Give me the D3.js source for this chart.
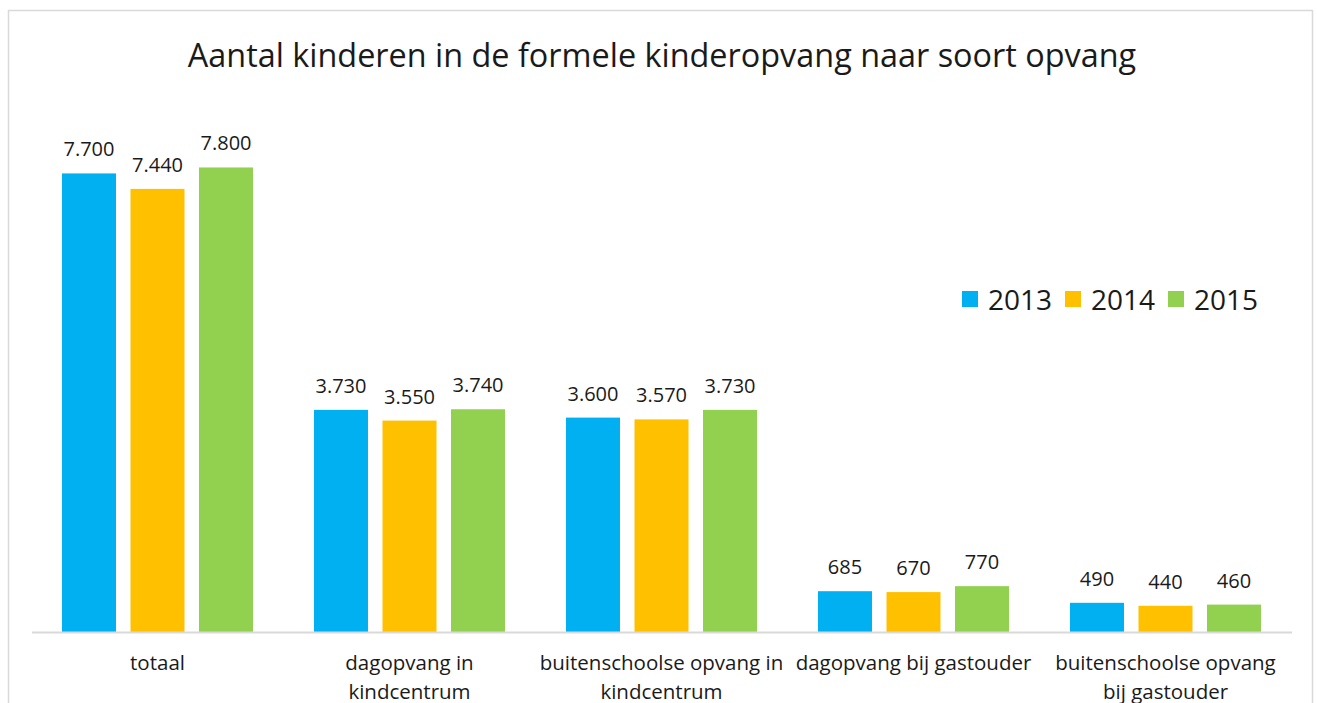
<!DOCTYPE html>
<html>
<head>
<meta charset="utf-8">
<script src="https://cdn.jsdelivr.net/npm/d3@7"></script>
<style>
  body { margin: 0; background: #fff; }
  text { font-family: "Open Sans", sans-serif; fill: #1a1a1a; }
</style>
</head>
<body>
<div id="chart"></div>
<script>
// Data
const categories = [
  "totaal",
  "dagopvang in kindcentrum",
  "buitenschoolse opvang in kindcentrum",
  "dagopvang bij gastouder",
  "buitenschoolse opvang bij gastouder"
];
const categoryLines = [
  ["totaal"],
  ["dagopvang in", "kindcentrum"],
  ["buitenschoolse opvang in", "kindcentrum"],
  ["dagopvang bij gastouder"],
  ["buitenschoolse opvang", "bij gastouder"]
];
const years = ["2013", "2014", "2015"];
const values2013 = [7700, 3730, 3600, 685, 490];
const values2014 = [7440, 3550, 3570, 670, 440];
const values2015 = [7800, 3740, 3730, 770, 460];
const colors = ["#00B0F0", "#FFC000", "#92D050"];

const series = [values2013, values2014, values2015];
const rows = categories.map((c, i) => ({
  cat: c,
  vals: years.map((y, j) => ({ year: y, value: series[j][i], idx: j }))
}));

const nl = d3.formatLocale({ decimal: ",", thousands: ".", grouping: [3], currency: ["€", ""] });
const fmt = nl.format(",d");

const W = 1317, H = 703;
const svg = d3.select("#chart").append("svg")
  .attr("width", W).attr("height", H);

// Chart border
svg.append("rect")
  .attr("x", 8.5).attr("y", 10.5)
  .attr("width", 1304).attr("height", 720)
  .attr("fill", "none").attr("stroke", "#D9D9D9").attr("stroke-width", 1.5);

// Title
svg.append("text")
  .attr("x", 662).attr("y", 67)
  .attr("text-anchor", "middle")
  .style("font-size", "32.4px")
  .text("Aantal kinderen in de formele kinderopvang naar soort opvang");

// Scales
const baseline = 632;
const x0 = d3.scaleBand().domain(categories).range([31.5, 1291.5]).padding(0);
const x1 = d3.scaleBand().domain(years).range([0, x0.bandwidth()])
  .paddingInner(0.212).paddingOuter(0.445);
const y = d3.scaleLinear().domain([0, 9000]).range([baseline, 96]);

// Bars
const groups = svg.selectAll(".group")
  .data(rows)
  .enter().append("g")
  .attr("class", "group")
  .attr("transform", d => `translate(${x0(d.cat)},0)`);

groups.selectAll("rect")
  .data(d => d.vals)
  .enter().append("rect")
  .attr("x", d => x1(d.year))
  .attr("y", d => y(d.value))
  .attr("width", x1.bandwidth())
  .attr("height", d => baseline - y(d.value))
  .attr("fill", d => colors[d.idx]);

// Value labels
groups.selectAll(".lbl")
  .data(d => d.vals)
  .enter().append("text")
  .attr("class", "lbl")
  .attr("x", d => x1(d.year) + x1.bandwidth() / 2)
  .attr("y", d => y(d.value) - 17)
  .attr("text-anchor", "middle")
  .style("font-size", "20px")
  .text(d => fmt(d.value));

// Axis
const xAxis = svg.append("g")
  .attr("transform", `translate(0,${baseline})`)
  .call(d3.axisBottom(x0).tickSize(0).tickFormat(""));
xAxis.select(".domain").attr("stroke", "#D9D9D9").attr("stroke-width", 2);

// Category labels
const catText = svg.selectAll(".cat")
  .data(categories)
  .enter().append("text")
  .attr("class", "cat")
  .attr("text-anchor", "middle")
  .attr("x", d => x0(d) + x0.bandwidth() / 2)
  .attr("y", 670)
  .style("font-size", "20.5px");
catText.selectAll("tspan")
  .data((d, i) => categoryLines[i])
  .enter().append("tspan")
  .attr("x", function () { return d3.select(this.parentNode).attr("x"); })
  .attr("dy", (d, i) => i === 0 ? 0 : 29)
  .text(d => d);

// Legend
const legendX = [962, 1065, 1168];
const legend = svg.selectAll(".leg")
  .data(years)
  .enter().append("g")
  .attr("class", "leg")
  .attr("transform", (d, i) => `translate(${legendX[i]},291)`);
legend.append("rect")
  .attr("width", 16).attr("height", 16)
  .attr("fill", (d, i) => colors[i]);
legend.append("text")
  .attr("x", 26).attr("y", 19)
  .style("font-size", "28px")
  .text(d => d);
</script>
</body>
</html>
